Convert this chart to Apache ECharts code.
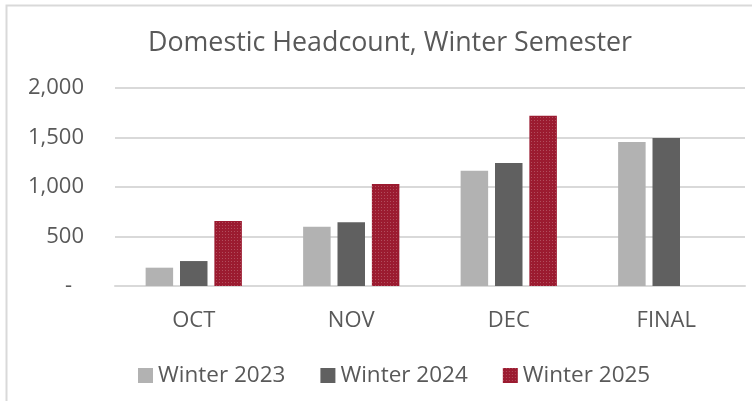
<!DOCTYPE html>
<html><head><meta charset="utf-8">
<script src="https://cdn.jsdelivr.net/npm/echarts@6/dist/echarts.min.js"></script>
<style>html,body{margin:0;padding:0;background:#fff}#c{width:752px;height:401px}</style>
</head><body><div id="c"></div>
<script>
const titleText = 'Domestic Headcount, Winter Semester';
const categories = ['OCT', 'NOV', 'DEC', 'FINAL'];
const seriesNames = ['Winter 2023', 'Winter 2024', 'Winter 2025'];
const winter2023 = [185, 599, 1165, 1455];
const winter2024 = [252, 643, 1242, 1495];
const winter2025 = [657, 1030, 1720, null];
const yTicks = [0, 500, 1000, 1500, 2000];

const font = '"Open Sans", "Noto Sans", sans-serif';
const textColor = '#595959';
const colors = ['#b2b2b2', '#606060', '#9b1b30'];
const data = [winter2023, winter2024, winter2025];

const chart = echarts.init(document.getElementById('c'), null, {renderer: 'canvas'});
chart.setOption({
  animation: false,
  backgroundColor: '#fff',
  graphic: [{
    type: 'rect', shape: {x: 6.5, y: 5.5, width: 760, height: 420},
    style: {fill: 'none', stroke: '#d9d9d9', lineWidth: 2}, silent: true
  }],
  title: {
    text: titleText, left: 143, top: 25,
    textStyle: {fontFamily: font, fontSize: 26.8, fontWeight: 'normal', color: textColor}
  },
  legend: {
    data: seriesNames, bottom: 9, left: 133, itemWidth: 15, itemHeight: 15, itemGap: 35,
    icon: 'rect',
    textStyle: {fontFamily: font, fontSize: 22.5, color: textColor}
  },
  grid: {left: 115, right: 7, top: 88, bottom: 115},
  xAxis: {
    type: 'category', data: categories,
    axisLine: {lineStyle: {color: '#d9d9d9', width: 2}},
    axisTick: {show: false},
    axisLabel: {fontFamily: font, fontSize: 22, color: textColor, margin: 24}
  },
  yAxis: {
    type: 'value', min: yTicks[0], max: yTicks[yTicks.length - 1], interval: yTicks[1] - yTicks[0],
    axisLine: {show: false}, axisTick: {show: false},
    splitLine: {lineStyle: {color: '#d9d9d9', width: 2}},
    axisLabel: {
      fontFamily: font, fontSize: 22, color: textColor, margin: 31,
      formatter: v => v === 0 ? '{z|-}' : v.toLocaleString('en-US'),
      rich: {z: {fontFamily: font, fontSize: 22, color: textColor, padding: [0, 12, 0, 0]}}
    }
  },
  series: seriesNames.map((n, i) => ({
    name: n, type: 'bar', data: data[i], barWidth: 27.5, barGap: '25%',
    itemStyle: Object.assign({color: colors[i]}, i === 2 ? {
      decal: {symbol: 'rect', symbolSize: 1, color: 'rgba(255,255,255,0.22)', dashArrayX: [1, 2], dashArrayY: [1, 2]}
    } : {})
  }))
});
</script></body></html>
